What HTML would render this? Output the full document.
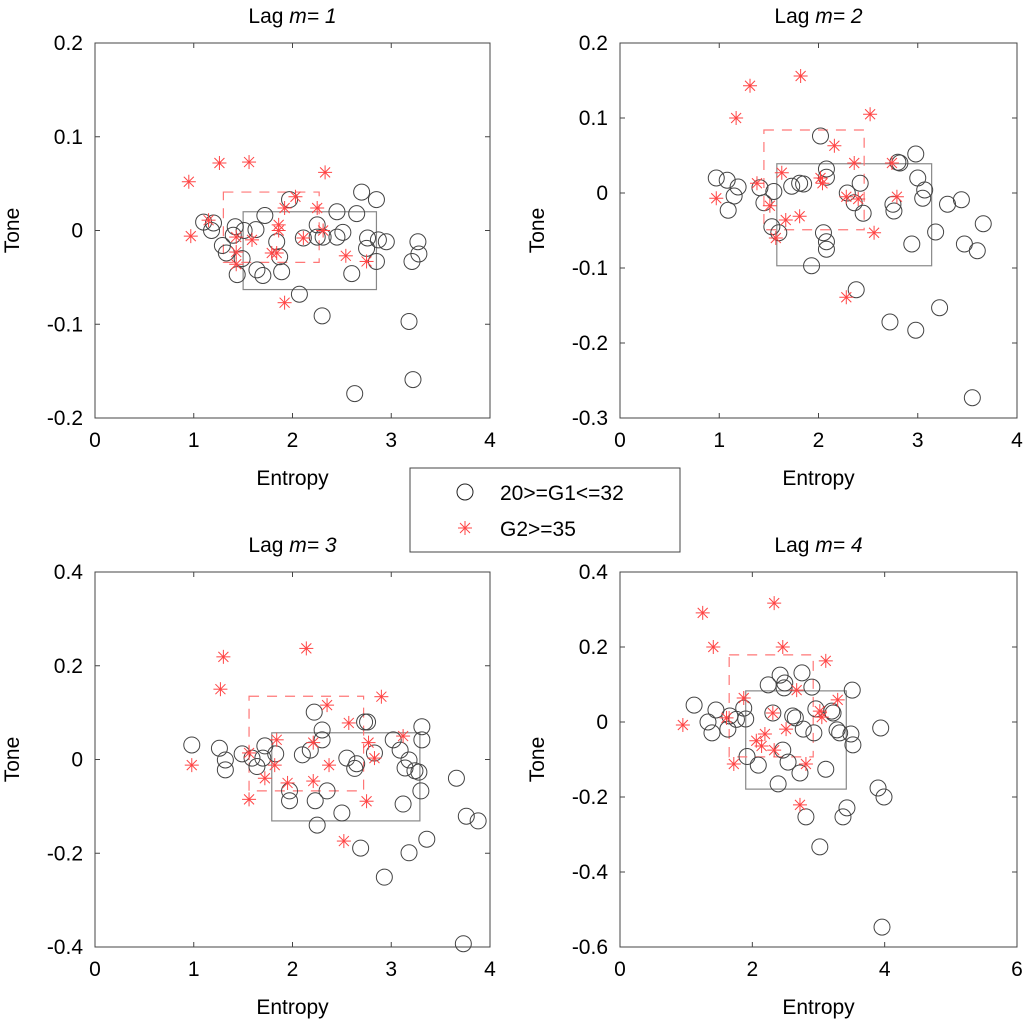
<!DOCTYPE html>
<html><head><meta charset="utf-8"><style>
body{margin:0;background:#fff;}
svg{display:block;font-family:"Liberation Sans",sans-serif;}
</style></head><body>
<svg id="fig" width="1024" height="1020" viewBox="0 0 1024 1020" xmlns="http://www.w3.org/2000/svg">
<rect width="1024" height="1020" fill="#fff"/>
<g>
<rect x="410" y="468" width="270" height="84" fill="#fff" stroke="#444" stroke-width="1"/>
<circle cx="465" cy="492" r="8" fill="none" stroke="#222" stroke-width="1"/>
<text x="500" y="500" font-size="21">20&gt;=G1&lt;=32</text>
<g stroke="#f44" stroke-width="1">
<line x1="458" y1="528" x2="472" y2="528"/><line x1="465" y1="521" x2="465" y2="535"/>
<line x1="460" y1="523" x2="470" y2="533"/><line x1="470" y1="523" x2="460" y2="533"/></g>
<text x="500" y="536" font-size="21">G2&gt;=35</text>
</g>
</svg>
<script>
const p1CircX=[2.70,2.85,2.45,2.65,1.97,1.72,1.10,1.20,1.18,1.42,1.51,1.63,1.40,1.29,1.33,1.49,1.44,1.64,1.70,1.89,1.84,1.87,2.25,2.25,2.31,2.51,2.45,2.11,2.76,2.87,2.95,2.75,2.85,2.60,2.07,2.30,3.27,3.28,3.21,3.18,3.22,2.63];
const p1CircY=[0.041,0.033,0.020,0.018,0.033,0.016,0.009,0.008,0.000,0.004,0.000,0.001,-0.005,-0.016,-0.024,-0.030,-0.047,-0.042,-0.048,-0.044,-0.012,-0.028,0.006,-0.007,-0.007,-0.002,-0.007,-0.008,-0.008,-0.010,-0.012,-0.019,-0.033,-0.046,-0.068,-0.091,-0.012,-0.025,-0.033,-0.097,-0.159,-0.174];
const p1StarX=[0.95,1.26,1.56,2.33,2.03,1.92,2.25,1.15,0.97,1.86,1.86,1.43,1.59,2.11,2.31,1.43,1.79,1.84,1.43,2.54,2.75,1.92];
const p1StarY=[0.052,0.072,0.073,0.062,0.036,0.024,0.024,0.011,-0.006,0.006,0.000,-0.007,-0.010,-0.008,0.000,-0.023,-0.024,-0.024,-0.036,-0.027,-0.033,-0.077];
const p1Solid=[1.50,2.85,0.020,-0.063];
const p1Dash=[1.30,2.27,0.041,-0.034];

const p2CircX=[2.02,2.98,2.80,2.82,2.08,2.08,3.00,3.07,3.05,0.97,1.08,1.19,1.15,1.09,1.41,1.55,1.45,1.73,1.81,1.85,2.29,2.36,2.42,2.45,2.75,2.76,3.30,3.44,3.66,3.18,3.47,3.60,2.94,1.53,1.60,2.05,2.08,2.08,1.93,2.38,3.22,2.72,2.98,3.55];
const p2CircY=[0.076,0.052,0.041,0.040,0.032,0.021,0.020,0.004,-0.007,0.020,0.017,0.008,-0.004,-0.023,0.007,0.002,-0.013,0.009,0.013,0.012,0.000,-0.013,0.013,-0.027,-0.015,-0.024,-0.015,-0.009,-0.041,-0.052,-0.068,-0.077,-0.068,-0.045,-0.053,-0.053,-0.065,-0.075,-0.097,-0.129,-0.153,-0.172,-0.183,-0.273];
const p2StarX=[1.82,1.31,1.17,2.52,2.16,2.36,2.74,1.63,2.02,2.04,1.38,0.97,2.79,2.28,2.40,1.51,1.81,1.67,2.56,1.57,2.28];
const p2StarY=[0.156,0.143,0.100,0.105,0.063,0.040,0.040,0.027,0.020,0.013,0.013,-0.007,-0.005,-0.005,-0.008,-0.017,-0.031,-0.036,-0.053,-0.060,-0.139];
const p2Solid=[1.58,3.14,0.039,-0.097];
const p2Dash=[1.45,2.46,0.084,-0.049];

const p3CircX=[0.98,1.26,1.32,1.32,1.49,1.59,1.64,1.72,1.70,1.83,2.10,2.18,2.22,2.30,2.30,2.55,2.65,2.63,2.73,2.76,2.83,3.02,3.09,3.18,3.14,3.24,3.28,3.31,3.31,3.30,3.12,3.66,3.76,3.88,3.36,3.18,2.93,2.69,2.50,2.25,2.35,2.23,1.97,1.97,3.73];
const p3CircY=[0.031,0.024,-0.001,-0.022,0.012,0.003,-0.015,0.029,0.003,0.012,0.010,0.020,0.101,0.063,0.042,0.003,-0.009,-0.019,0.080,0.080,0.014,0.042,0.020,-0.001,-0.018,-0.024,-0.027,0.070,0.042,-0.067,-0.095,-0.040,-0.121,-0.131,-0.170,-0.199,-0.251,-0.189,-0.114,-0.140,-0.067,-0.088,-0.067,-0.088,-0.393];
const p3StarX=[1.30,2.14,1.27,2.90,2.35,2.57,3.12,1.84,2.21,2.77,1.56,2.83,0.98,1.82,2.37,1.72,2.21,1.95,1.56,2.75,2.52];
const p3StarY=[0.219,0.237,0.150,0.134,0.116,0.078,0.050,0.042,0.036,0.036,0.014,0.003,-0.012,-0.012,-0.012,-0.040,-0.046,-0.050,-0.085,-0.089,-0.174];
const p3Solid=[1.79,3.29,0.057,-0.131];
const p3Dash=[1.56,2.72,0.135,-0.067];

const p4CircX=[1.12,1.45,1.33,1.39,1.63,1.66,1.76,1.87,1.90,1.92,2.09,2.24,2.42,2.49,2.48,2.75,2.90,2.31,2.61,2.65,2.77,2.93,2.96,3.20,3.22,3.28,3.32,3.49,3.52,3.51,3.94,2.46,2.54,2.72,3.11,2.39,3.90,3.99,3.43,3.37,2.81,3.02,3.96];
const p4CircY=[0.045,0.032,0.000,-0.029,-0.019,0.016,0.007,0.037,0.008,-0.092,-0.115,0.099,0.125,0.104,0.091,0.131,0.093,0.024,0.016,0.011,-0.019,-0.029,0.035,0.029,0.024,-0.021,-0.029,-0.032,-0.061,0.085,-0.016,-0.075,-0.107,-0.136,-0.126,-0.165,-0.176,-0.200,-0.229,-0.253,-0.253,-0.333,-0.547];
const p4StarX=[2.33,1.25,2.46,1.41,3.11,2.67,3.29,1.87,2.31,3.02,3.05,1.61,0.95,2.51,2.19,2.06,2.14,2.33,1.72,2.81,2.72];
const p4StarY=[0.317,0.291,0.200,0.200,0.163,0.085,0.059,0.064,0.024,0.029,0.013,0.011,-0.008,-0.019,-0.032,-0.050,-0.064,-0.075,-0.112,-0.112,-0.221];
const p4Solid=[1.90,3.42,0.083,-0.179];
const p4Dash=[1.65,2.92,0.179,-0.093];

const xTicks12=["0","1","2","3","4"];
const xTicks3=["0","1","2","3","4"];
const xTicks4=["0","2","4","6"];
const yTicks1=["-0.2","-0.1","0","0.1","0.2"];
const yTicks2=["-0.3","-0.2","-0.1","0","0.1","0.2"];
const yTicks3=["-0.4","-0.2","0","0.2","0.4"];
const yTicks4=["-0.6","-0.4","-0.2","0","0.2","0.4"];

const NS="http://www.w3.org/2000/svg";
const svg=document.getElementById('fig');
function mk(tag,attrs,parent){const e=document.createElementNS(NS,tag);for(const k in attrs)e.setAttribute(k,attrs[k]);parent.appendChild(e);return e;}

function plot(o){
  const g=mk('g',{},svg);
  
  
  const xMin=+o.xt[0], xMax=+o.xt[o.xt.length-1], yMin=+o.yt[0], yMax=+o.yt[o.yt.length-1];
  const sx=v=>o.L+(v-xMin)/(xMax-xMin)*(o.R-o.L);
  const sy=v=>o.B-(v-yMin)/(yMax-yMin)*(o.B-o.T);
  const ax=mk('rect',{x:o.L,y:o.T,width:o.R-o.L,height:o.B-o.T,fill:'none',stroke:'#444','stroke-width':1},g);
  
  
  o.xt.forEach(t=>{const x=sx(+t);
    mk('line',{x1:x,y1:o.B,x2:x,y2:o.B-5,stroke:'#444'},g);
    mk('line',{x1:x,y1:o.T,x2:x,y2:o.T+5,stroke:'#444'},g);
    const tx=mk('text',{x:x,y:o.B+29,'font-size':21,'text-anchor':'middle'},g);tx.textContent=t;
    
    
  });
  o.yt.forEach(t=>{const y=sy(+t);
    mk('line',{x1:o.L,y1:y,x2:o.L+5,y2:y,stroke:'#444'},g);
    mk('line',{x1:o.R,y1:y,x2:o.R-5,y2:y,stroke:'#444'},g);
    const tx=mk('text',{x:o.L-12,y:y+7,'font-size':21,'text-anchor':'end'},g);tx.textContent=t;
    
    
  });
  const xl=mk('text',{x:(o.L+o.R)/2,y:o.B+67,'font-size':21,'text-anchor':'middle'},g);xl.textContent='Entropy';
  
  
  const yl=mk('text',{x:0,y:0,'font-size':21,'text-anchor':'middle',transform:`translate(${o.L-76},${(o.T+o.B)/2}) rotate(-90)`},g);yl.textContent='Tone';
  
  
  const ti=mk('text',{x:(o.L+o.R)/2,y:o.T-20,'font-size':21,'text-anchor':'middle'},g);
  ti.innerHTML='Lag <tspan font-style="italic">m= '+o.lag+'</tspan>';
  
  
  const s=o.solid, d=o.dash;
  const sr=mk('rect',{x:sx(s[0]),y:sy(s[2]),width:sx(s[1])-sx(s[0]),height:sy(s[3])-sy(s[2]),fill:'none',stroke:'#888','stroke-width':1.2},g);
  
  
  const dr=mk('rect',{x:sx(d[0]),y:sy(d[2]),width:sx(d[1])-sx(d[0]),height:sy(d[3])-sy(d[2]),fill:'none',stroke:'#f77','stroke-width':1.2,'stroke-dasharray':'10,8'},g);
  
  
  o.cx.forEach((v,i)=>{
    const c=mk('circle',{cx:sx(v),cy:sy(o.cy[i]),r:8,fill:'none',stroke:'#444','stroke-width':1},g);
    
    
  });
  o.stx.forEach((v,i)=>{
    const x=sx(v), y=sy(o.sty[i]);
    const st=mk('g',{stroke:'#f44','stroke-width':1},g);
    
    
    mk('line',{x1:x-7,y1:y,x2:x+7,y2:y},st);
    mk('line',{x1:x,y1:y-7,x2:x,y2:y+7},st);
    mk('line',{x1:x-5,y1:y-5,x2:x+5,y2:y+5},st);
    mk('line',{x1:x+5,y1:y-5,x2:x-5,y2:y+5},st);
  });
}
plot({name:'plot-lag-1',lag:1,L:95,R:490,T:43,B:418,xt:xTicks12,yt:yTicks1,cx:p1CircX,cy:p1CircY,stx:p1StarX,sty:p1StarY,solid:p1Solid,dash:p1Dash});
plot({name:'plot-lag-2',lag:2,L:620,R:1017,T:43,B:418,xt:xTicks12,yt:yTicks2,cx:p2CircX,cy:p2CircY,stx:p2StarX,sty:p2StarY,solid:p2Solid,dash:p2Dash});
plot({name:'plot-lag-3',lag:3,L:95,R:490,T:572,B:947,xt:xTicks3,yt:yTicks3,cx:p3CircX,cy:p3CircY,stx:p3StarX,sty:p3StarY,solid:p3Solid,dash:p3Dash});
plot({name:'plot-lag-4',lag:4,L:620,R:1017,T:572,B:947,xt:xTicks4,yt:yTicks4,cx:p4CircX,cy:p4CircY,stx:p4StarX,sty:p4StarY,solid:p4Solid,dash:p4Dash});
</script>
</body></html>
